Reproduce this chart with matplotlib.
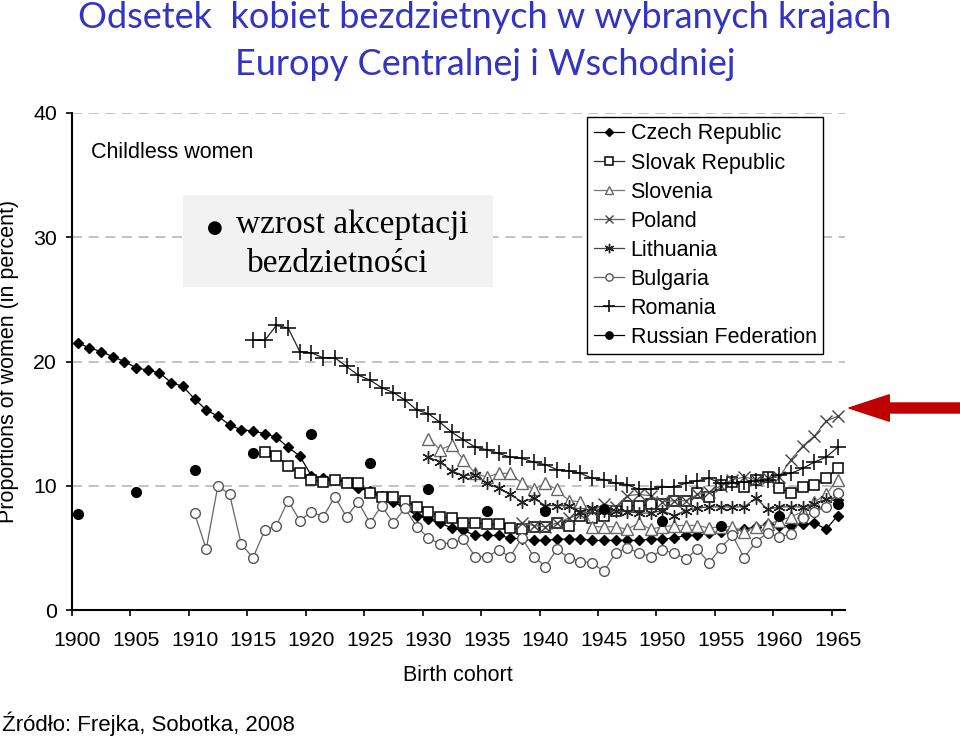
import numpy as np
import matplotlib
matplotlib.use("Agg")
import matplotlib.pyplot as plt
from matplotlib.lines import Line2D
from matplotlib.patches import Rectangle, FancyArrowPatch

# childless women (%) by birth cohort
czech_start = 1900
czech = [21.5, 21.1, 20.8, 20.4, 20.0, 19.5, 19.3, 19.1, 18.3, 18.0,
         17.0, 16.1, 15.6, 14.9, 14.5, 14.4, 14.2, 13.9, 13.1, 12.4,
         10.8, 10.6, 10.5, 10.3, 9.8, 9.6, 9.2, 8.7, 8.2, 7.6,
         7.3, 7.0, 6.6, 6.4, 6.0, 6.0, 6.0, 5.8, 5.7, 5.6,
         5.6, 5.7, 5.7, 5.7, 5.6, 5.6, 5.6, 5.6, 5.6, 5.7,
         5.7, 5.8, 6.0, 6.0, 6.2, 6.3, 6.4, 6.5, 6.7, 6.9,
         6.8, 6.8, 6.9, 7.0, 6.5, 7.6]

slovak_start = 1916
slovak = [12.7, 12.4, 11.6, 11.0,
          10.5, 10.3, 10.5, 10.2, 10.2, 9.4, 9.1, 9.1, 8.8, 8.3,
          7.9, 7.5, 7.4, 7.0, 7.0, 6.9, 6.9, 6.6, 6.5, 6.7,
          6.7, 7.0, 6.8, 7.6, 7.4, 7.6, 8.0, 8.4, 8.4, 8.5,
          8.5, 8.8, 8.8, 9.4, 9.1, 10.1, 10.3, 9.9, 10.5, 10.7,
          9.8, 9.4, 9.9, 10.1, 10.6, 11.4]

slovenia_start = 1930
slovenia = [13.8, 12.9, 13.3, 12.1, 11.0, 10.7, 11.0, 11.0, 10.2, 9.7,
            10.2, 9.7, 8.8, 8.7, 6.7, 6.7, 6.7, 6.5, 7.0, 6.5,
            6.7, 6.8, 6.8, 6.8, 6.6, 6.7, 6.7, 6.3, 6.7, 6.9,
            7.2, 7.5, 7.9, 8.7, 9.3, 10.5]

poland_start = 1938
poland = [7.0, 6.8, 6.7, 7.0, 7.4, 7.7, 8.0, 8.5, 8.3, 9.2,
          9.3, 9.2, 8.7, 8.8, 8.8, 9.3, 9.5, 10.0, 10.5, 10.7,
          10.5, 10.6, 10.7, 12.1, 13.2, 14.0, 15.2, 15.6]

lithuania_start = 1930
lithuania = [12.3, 11.9, 11.2, 10.8, 10.9, 10.2, 9.8, 9.3, 8.7, 9.0,
             8.4, 8.4, 8.4, 7.9, 8.2, 8.0, 8.0, 7.9, 7.8, 7.8,
             8.0, 7.6, 8.0, 8.2, 8.3, 8.3, 8.3, 8.3, 9.0, 8.1,
             8.3, 8.3, 8.3, 8.5, 8.9, 9.1]

bulgaria_start = 1910
bulgaria = [7.8, 4.9, 10.0, 9.3, 5.3, 4.2, 6.4, 6.8, 8.8, 7.2,
            7.9, 7.5, 9.1, 7.5, 8.7, 7.0, 8.4, 7.0, 8.2, 6.7,
            5.8, 5.3, 5.4, 5.7, 4.3, 4.3, 4.8, 4.3, 5.8, 4.3,
            3.5, 4.9, 4.2, 3.9, 3.8, 3.1, 4.6, 5.0, 4.6, 4.3,
            4.8, 4.6, 4.1, 4.9, 3.8, 5.0, 6.0, 4.2, 5.5, 6.2,
            5.9, 6.1, 7.4, 7.9, 8.3, 9.4]

romania_start = 1915
romania = [21.7, 21.7, 22.9, 22.7, 20.8, 20.7, 20.3, 20.3, 19.6, 18.9,
           18.5, 17.9, 17.5, 16.9, 16.1, 15.8, 15.1, 14.3, 13.7, 13.1,
           12.9, 12.6, 12.3, 12.2, 11.9, 11.7, 11.3, 11.2, 11.0, 10.6,
           10.5, 10.2, 10.1, 9.7, 9.7, 9.9, 9.9, 10.2, 10.4, 10.6,
           10.2, 10.2, 10.3, 10.4, 10.5, 10.9, 11.0, 11.4, 11.9, 12.3,
           13.1]

russia_years = [1900, 1905, 1910, 1915, 1920, 1925, 1930, 1935, 1940, 1945,
                1950, 1955, 1960, 1965]
russia = [7.7, 9.5, 11.3, 12.6, 14.2, 11.8, 9.7, 8.0, 8.0, 8.1,
          7.2, 6.8, 7.6, 8.5]

tick_years = list(range(1900, 1966, 5))

SANS = ["Liberation Sans", "DejaVu Sans"]


def fx(px):
    return px / 960


def fy(py):
    return 1 - py / 737


fig = plt.figure(figsize=(9.6, 7.37), dpi=100)
ax = fig.add_axes([fx(71.7), fy(610), fx(845) - fx(71.7), fy(113) - fy(610)])

series = [
    ("Czech Republic", czech_start, czech,
     dict(color="black", marker="D", ms=5.5, mfc="black", mec="black")),
    ("Slovak Republic", slovak_start, slovak,
     dict(color="#333333", marker="s", ms=7.5, mfc="white", mec="black", mew=1.1)),
    ("Slovenia", slovenia_start, slovenia,
     dict(color="#777777", marker="^", ms=8, mfc="white", mec="#666666", mew=1.0)),
    ("Poland", poland_start, poland,
     dict(color="#666666", marker="x", ms=8, mec="#444444", mew=1.0)),
    ("Lithuania", lithuania_start, lithuania,
     dict(color="#444444", marker=(6, 2, 0), ms=9, mec="#222222", mew=1.0)),
    ("Bulgaria", bulgaria_start, bulgaria,
     dict(color="#666666", marker="o", ms=7, mfc="white", mec="#555555", mew=1.0)),
    ("Romania", romania_start, romania,
     dict(color="#222222", marker="+", ms=11, mec="black", mew=1.1)),
]

handles = []
for name, start, vals, st in series:
    yrs = np.arange(start, start + len(vals))
    ln, = ax.plot(yrs, vals, lw=0.9, label=name, **st)
    handles.append(ln)

ax.plot(russia_years, russia, ls="none", marker="o", ms=7, color="black")
handles.append(Line2D([], [], color="black", lw=0.9, marker="o", ms=7,
                      label="Russian Federation"))

ax.set_xlim(1899.52, 1965.62)
ax.set_ylim(0, 40)
ax.set_yticks([0, 10, 20, 30, 40])
ax.set_xticks(tick_years)
ax.set_xticks([y - 0.5 for y in tick_years], minor=True)
ax.tick_params(axis="x", which="major", length=0, pad=15)
ax.tick_params(axis="x", which="minor", length=4.5, width=1.2, direction="out")
ax.tick_params(axis="y", length=4.5, width=1.2, direction="out", pad=6)
for lab in ax.get_xticklabels() + ax.get_yticklabels():
    lab.set_family(SANS)
    lab.set_fontsize(15.3)

for s in ["top", "right"]:
    ax.spines[s].set_visible(False)
for s in ["left", "bottom"]:
    ax.spines[s].set_linewidth(1.5)

ax.yaxis.grid(True, linestyle=(0, (6, 4)), color="#b8b8b8", lw=1.2)
ax.set_axisbelow(True)

ax.set_xlabel("Birth cohort", family=SANS, fontsize=15.5, labelpad=11)
ax.set_ylabel("Proportions of women (in percent)", family=SANS, fontsize=15.5,
              labelpad=10)

fig.text(fx(91), fy(158), "Childless women", family=SANS, fontsize=15.5,
         va="baseline")

leg = ax.legend(handles=handles, loc="upper right",
                bbox_to_anchor=(fx(823), fy(117)), bbox_transform=fig.transFigure,
                borderaxespad=0, fancybox=False, framealpha=1, edgecolor="black",
                prop=dict(family=SANS, size=15.5), handlelength=1.4,
                handletextpad=0.3, labelspacing=0.375, borderpad=0.3,
                markerscale=0.75)
leg.get_frame().set_linewidth(1.0)

# annotation box
fig.add_artist(Rectangle((fx(183), fy(287)), fx(493) - fx(183), fy(195) - fy(287),
                         transform=fig.transFigure, facecolor="#f2f2f2",
                         edgecolor="none", zorder=3))
fig.text(fx(207), fy(233), "\u25cf", family="DejaVu Sans", fontsize=13,
         va="baseline", zorder=4)
fig.text(fx(236), fy(233), "wzrost akceptacji", family="Liberation Serif",
         fontsize=24, va="baseline", zorder=4)
fig.text(fx(247), fy(272), "bezdzietności", family="Liberation Serif",
         fontsize=24, va="baseline", zorder=4)

# title
title_color = "#3434c4"
fig.text(fx(485), fy(28), "Odsetek  kobiet bezdzietnych w wybranych krajach",
         family=["Lato", "DejaVu Sans"], fontsize=26, color=title_color,
         ha="center", va="baseline")
fig.text(fx(485), fy(75), "Europy Centralnej i Wschodniej",
         family=["Lato", "DejaVu Sans"], fontsize=26, color=title_color,
         ha="center", va="baseline")

# red arrow pointing at the 1965 cohorts
fig.add_artist(FancyArrowPatch((fx(960), fy(408)), (fx(849), fy(408)),
                               transform=fig.transFigure,
                               arrowstyle="simple,head_length=2.9,head_width=1.9,tail_width=0.72",
                               mutation_scale=10, color="#c00000",
                               shrinkA=0, shrinkB=0))

fig.text(fx(2), fy(731), "Źródło: Frejka, Sobotka, 2008", family=SANS,
         fontsize=16, va="baseline")

fig.savefig("out.png", dpi=100)
